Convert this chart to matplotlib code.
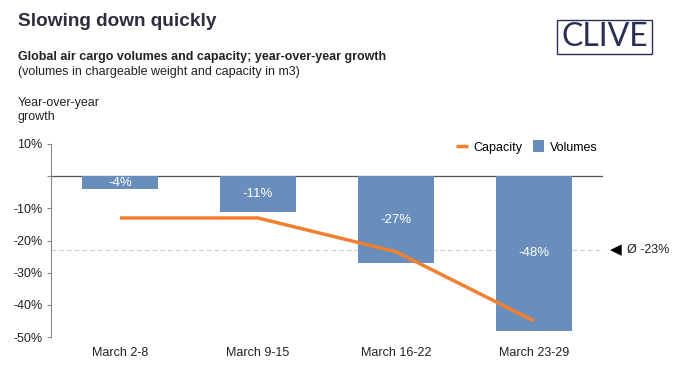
import numpy as np
import matplotlib
matplotlib.use("Agg")
import matplotlib.pyplot as plt
from matplotlib.ticker import FuncFormatter
from matplotlib.patches import Rectangle

# ---------- DATA ----------
weeks = ["March 2-8", "March 9-15", "March 16-22", "March 23-29"]
volumes = [-4, -11, -27, -48]      # % yoy, bars
capacity = [-13, -13, -23.5, -45]  # % yoy, line
avg_growth = -23                   # average of volumes (rounded)
y_ticks = [10, 0, -10, -20, -30, -40, -50]
# --------------------------

BAR_COL = "#6a8ebb"
LINE_COL = "#f08030"
TXT_COL = "#222222"
NAVY = "#2b2f55"

plt.rcParams["font.family"] = ["Liberation Sans", "DejaVu Sans"]

W, H = 680, 373
fig = plt.figure(figsize=(W / 100, H / 100), dpi=100)
# axes placed in pixel terms: spine at x=51, right end 603, 10% at y=144, -50% at y=337
ax = fig.add_axes([51 / W, 1 - 337 / H, (603 - 51) / W, (337 - 144) / H])

x = np.arange(len(weeks))
bars = ax.bar(x, volumes, width=0.55, color=BAR_COL, label="Volumes", zorder=2)
ax.bar_label(bars, labels=[f"{v}%" for v in volumes], label_type="center",
             color="white", fontsize=9.5)
ax.plot(x, capacity, color=LINE_COL, lw=2.5, label="Capacity", zorder=3,
        solid_capstyle="butt")

ax.axhline(0, color="#555555", lw=0.9, zorder=1)
ax.axhline(avg_growth, color="#c4cad6", lw=0.8, ls=(0, (4, 3)), zorder=1)
ax.annotate("\u25C0", xy=(1.0, avg_growth),
            xycoords=("axes fraction", "data"), xytext=(5, 0),
            textcoords="offset points", va="center", ha="left",
            fontsize=11, color="black", annotation_clip=False)
ax.annotate(f"\u00D8 {avg_growth}%", xy=(1.0, avg_growth),
            xycoords=("axes fraction", "data"), xytext=(17, 0),
            textcoords="offset points", va="center", ha="left",
            fontsize=9, color=TXT_COL, annotation_clip=False)

ax.set_xlim(-0.5, 3.5)
ax.set_ylim(-50, 10)
ax.set_yticks(y_ticks)
ax.yaxis.set_major_formatter(FuncFormatter(lambda v, p: "" if v == 0 else f"{v:.0f}%"))
ax.set_xticks(x)
ax.set_xticklabels(weeks)
ax.tick_params(axis="x", length=0, pad=7, labelsize=9, colors=TXT_COL)
ax.tick_params(axis="y", length=3, width=0.8, color="#888888", pad=3,
               labelsize=9, labelcolor=TXT_COL)
for s in ["top", "right", "bottom"]:
    ax.spines[s].set_visible(False)
ax.spines["left"].set_color("#888888")
ax.spines["left"].set_linewidth(0.8)

handles, labels = ax.get_legend_handles_labels()
order = [labels.index("Capacity"), labels.index("Volumes")]
ax.legend([handles[i] for i in order], [labels[i] for i in order],
          loc="center right", bbox_to_anchor=(1.0, 1 - (147 - 144) / (337 - 144)),
          ncol=2, frameon=False, fontsize=9, handlelength=0.9, handleheight=1.1,
          handletextpad=0.5, columnspacing=0.8, borderaxespad=0)

# headers
def px_text(px, py, s, **kw):
    fig.text(px / W, 1 - py / H, s, va="center", ha="left", **kw)

px_text(18, 21, "Slowing down quickly", fontsize=13.7, fontweight="bold", color="#2d2d3d")
px_text(18, 57, "Global air cargo volumes and capacity; year-over-year growth",
        fontsize=9, fontweight="bold", color=TXT_COL)
px_text(18, 72, "(volumes in chargeable weight and capacity in m3)", fontsize=9, color=TXT_COL)
px_text(18, 110, "Year-over-year\ngrowth", fontsize=9, color=TXT_COL, linespacing=1.3)

# logo
fig.add_artist(Rectangle((557 / W, 1 - 54 / H), 95 / W, 34 / H, transform=fig.transFigure,
                         fill=False, ec=NAVY, lw=1.0))
fig.text(604.5 / W, 1 - 37.5 / H, "CLIVE", ha="center", va="center", fontsize=23,
         family=["Lato", "DejaVu Sans"], fontweight="normal", color=NAVY)

fig.savefig("out.png", dpi=100)
